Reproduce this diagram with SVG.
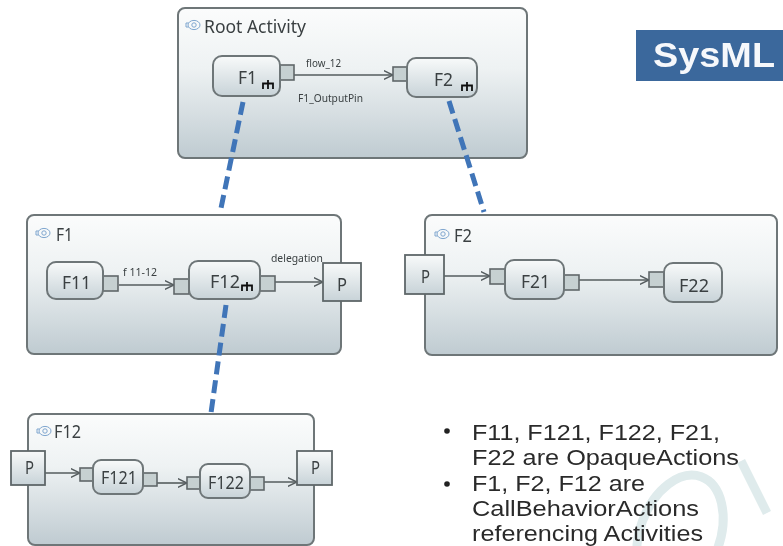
<svg xmlns="http://www.w3.org/2000/svg" width="783" height="546" viewBox="0 0 783 546">
<style>
.panel{fill:url(#pg);stroke:#6e7678;stroke-width:2}
.act{fill:url(#ng);stroke:#6e7678;stroke-width:2}
.pin{fill:#c6d0d1;stroke:#5f6769;stroke-width:1.6}
.port{fill:url(#ng);stroke:#5f6769;stroke-width:1.8}
.t{font-family:"Noto Sans","Open Sans",sans-serif;fill:#3a4042}
.title{font-size:18px}
.lbl{font-size:18px}
.small{font-size:10.5px}
.flow{fill:none;stroke:#555c5e;stroke-width:1.6;marker-end:url(#arr)}
.trace{fill:none;stroke:#3f74b8;stroke-width:5;stroke-dasharray:13 6}
.bul{font-family:"Liberation Sans",Arial,sans-serif;font-size:22px;fill:#2c2c2c}
.rake{fill:none;stroke:#111;stroke-width:1.8}
.ico{fill:none;stroke:#7fa6cf;stroke-width:1}
</style>
<defs>
<linearGradient id="pg" x1="0" y1="0" x2="0" y2="1"><stop offset="0" stop-color="#fbfcfc"/><stop offset=".4" stop-color="#eef2f3"/><stop offset="1" stop-color="#bfcbd1"/></linearGradient>
<linearGradient id="ng" x1="0" y1="0" x2="0" y2="1"><stop offset="0" stop-color="#f8fafa"/><stop offset="1" stop-color="#c8d3d8"/></linearGradient>
<marker id="arr" viewBox="0 0 10 10" refX="9.5" refY="5" markerWidth="10" markerHeight="10" markerUnits="userSpaceOnUse" orient="auto"><path d="M0 .5 9.5 5 0 9.5" fill="none" stroke="#555c5e" stroke-width="1.5"/></marker>
<g id="ic"><ellipse class="ico" cx="8" cy="0" rx="6" ry="4.6"/><circle class="ico" cx="8" cy="0" r="2.2"/><path class="ico" d="M0-2h2.5M0 2h2.5M0-2v4"/></g>
<path id="rk" class="rake" d="M0 9V3.5H10V9M5 0V9"/>
<filter id="soft" x="-2%" y="-2%" width="104%" height="104%"><feGaussianBlur stdDeviation="0.45"/></filter>
</defs>
<rect width="783" height="546" fill="#ffffff"/>
<g filter="url(#soft)">
<g id="watermark" fill="none" stroke="#dfebec" stroke-width="9">
<ellipse cx="680" cy="535" rx="40" ry="62" transform="rotate(20 680 535)"/>
<path d="M741 461 767 513"/>
</g>

<g id="root-activity"><rect class="panel" x="178" y="8" width="349" height="150" rx="7"/><use href="#ic" x="186" y="25"/><text class="t title" x="204" y="33" textLength="102" lengthAdjust="spacingAndGlyphs">Root Activity</text></g>
<g id="panel-f1"><rect class="panel" x="27" y="215" width="314" height="139" rx="7"/><use href="#ic" x="36" y="233"/><text class="t title" x="56" y="241" textLength="17" lengthAdjust="spacingAndGlyphs">F1</text></g>
<g id="panel-f2"><rect class="panel" x="425" y="215" width="352" height="140" rx="7"/><use href="#ic" x="435" y="234"/><text class="t title" x="454" y="242" textLength="18" lengthAdjust="spacingAndGlyphs">F2</text></g>
<g id="panel-f12"><rect class="panel" x="28" y="414" width="286" height="131" rx="7"/><use href="#ic" x="37" y="431"/><text class="t title" x="54" y="438" textLength="27" lengthAdjust="spacingAndGlyphs">F12</text></g>

<g id="connectors">
<path class="flow" d="M294 75H393"/>
<path class="flow" d="M119 285H174"/>
<path class="flow" d="M275 282H323"/>
<path class="flow" d="M444 276H490"/>
<path class="flow" d="M579 280H649"/>
<path class="flow" d="M45 473H80"/>
<path class="flow" d="M157 483H187"/>
<path class="flow" d="M264 482H297"/>
<path class="trace" d="M243 102 220 213"/>
<path class="trace" d="M449 101 484 212"/>
<path class="trace" d="M226 305 211 413"/>
</g>

<g id="f1"><rect class="pin" x="280" y="65" width="14" height="15"/><rect class="act" x="213" y="56" width="67" height="40" rx="9"/><text class="t lbl" x="238" y="84" textLength="19" lengthAdjust="spacingAndGlyphs">F1</text><use href="#rk" x="263" y="80"/></g>
<g id="f2"><rect class="pin" x="393" y="67" width="14" height="14"/><rect class="act" x="407" y="58" width="70" height="39" rx="9"/><text class="t lbl" x="434" y="86" textLength="19" lengthAdjust="spacingAndGlyphs">F2</text><use href="#rk" x="462" y="82"/></g>
<text class="t small" x="306" y="67" textLength="35" lengthAdjust="spacingAndGlyphs">flow_12</text>
<text class="t small" x="298" y="102" textLength="65" lengthAdjust="spacingAndGlyphs">F1_OutputPin</text>

<g id="f11"><rect class="pin" x="103" y="276" width="15" height="15"/><rect class="act" x="47" y="262" width="56" height="37" rx="9"/><text class="t lbl" x="62" y="289" textLength="29" lengthAdjust="spacingAndGlyphs">F11</text></g>
<g id="f12"><rect class="pin" x="174" y="279" width="15" height="15"/><rect class="pin" x="260" y="276" width="15" height="15"/><rect class="act" x="189" y="261" width="71" height="38" rx="9"/><text class="t lbl" x="210" y="288" textLength="30" lengthAdjust="spacingAndGlyphs">F12</text><use href="#rk" x="242" y="282"/></g>
<g id="f1-port"><rect class="port" x="323" y="263" width="38" height="38"/><text class="t lbl" x="337" y="291" textLength="10" lengthAdjust="spacingAndGlyphs">P</text></g>
<text class="t small" x="123" y="276" textLength="34" lengthAdjust="spacingAndGlyphs">f 11-12</text>
<text class="t small" x="271" y="262" textLength="52" lengthAdjust="spacingAndGlyphs">delegation</text>

<g id="f2-port"><rect class="port" x="405" y="255" width="39" height="39"/><text class="t lbl" x="421" y="283" textLength="9" lengthAdjust="spacingAndGlyphs">P</text></g>
<g id="f21"><rect class="pin" x="490" y="269" width="15" height="15"/><rect class="pin" x="564" y="275" width="15" height="15"/><rect class="act" x="505" y="260" width="59" height="39" rx="9"/><text class="t lbl" x="521" y="288" textLength="29" lengthAdjust="spacingAndGlyphs">F21</text></g>
<g id="f22"><rect class="pin" x="649" y="272" width="15" height="15"/><rect class="act" x="664" y="263" width="58" height="39" rx="9"/><text class="t lbl" x="679" y="292" textLength="30" lengthAdjust="spacingAndGlyphs">F22</text></g>

<g id="f12-port-in"><rect class="port" x="11" y="451" width="34" height="34"/><text class="t lbl" x="25" y="474" textLength="9" lengthAdjust="spacingAndGlyphs">P</text></g>
<g id="f121"><rect class="pin" x="80" y="468" width="13" height="13"/><rect class="pin" x="143" y="473" width="14" height="13"/><rect class="act" x="93" y="460" width="50" height="34" rx="8"/><text class="t lbl" x="101" y="484" textLength="36" lengthAdjust="spacingAndGlyphs">F121</text></g>
<g id="f122"><rect class="pin" x="187" y="477" width="13" height="12"/><rect class="pin" x="250" y="477" width="14" height="13"/><rect class="act" x="200" y="464" width="50" height="34" rx="8"/><text class="t lbl" x="208" y="489" textLength="36" lengthAdjust="spacingAndGlyphs">F122</text></g>
<g id="f12-port-out"><rect class="port" x="297" y="451" width="35" height="34"/><text class="t lbl" x="311" y="474" textLength="9" lengthAdjust="spacingAndGlyphs">P</text></g>

<g id="sysml"><rect x="636" y="30" width="147" height="51" fill="#3a679c"/><text x="653" y="67" font-family="'Liberation Sans',Arial,sans-serif" font-weight="bold" font-size="35" fill="#f6f8fb" textLength="122" lengthAdjust="spacingAndGlyphs">SysML</text></g>

<g id="notes">
<circle cx="447" cy="431" r="2.8" fill="#222"/>
<circle cx="447" cy="484" r="2.8" fill="#222"/>
<text class="bul" x="472" y="440" textLength="248" lengthAdjust="spacingAndGlyphs">F11, F121, F122, F21,</text>
<text class="bul" x="472" y="465" textLength="267" lengthAdjust="spacingAndGlyphs">F22 are OpaqueActions</text>
<text class="bul" x="472" y="491" textLength="173" lengthAdjust="spacingAndGlyphs">F1, F2, F12 are</text>
<text class="bul" x="472" y="516" textLength="227" lengthAdjust="spacingAndGlyphs">CallBehaviorActions</text>
<text class="bul" x="472" y="541" textLength="231" lengthAdjust="spacingAndGlyphs">referencing Activities</text>
</g>
</g>
</svg>
